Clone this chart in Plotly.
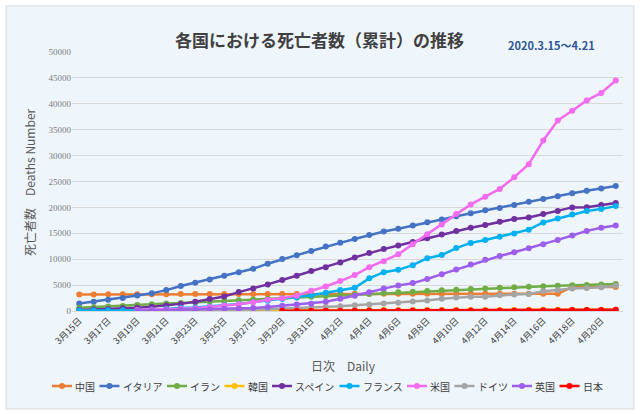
import plotly.graph_objects as go

dates = ["3月15日","3月16日","3月17日","3月18日","3月19日","3月20日","3月21日","3月22日","3月23日","3月24日",
         "3月25日","3月26日","3月27日","3月28日","3月29日","3月30日","3月31日","4月1日","4月2日","4月3日",
         "4月4日","4月5日","4月6日","4月7日","4月8日","4月9日","4月10日","4月11日","4月12日","4月13日",
         "4月14日","4月15日","4月16日","4月17日","4月18日","4月19日","4月20日","4月21日"]

china = [3199,3203,3217,3230,3241,3249,3253,3259,3274,3274,3281,3285,3291,3296,3299,3304,3308,3309,3316,3322,
         3326,3330,3333,3335,3335,3337,3339,3340,3343,3343,3345,3345,3346,3346,4636,4636,4636,4636]
italy = [1441,1809,2158,2503,2978,3405,4032,4825,5476,6077,6820,7503,8165,9134,10023,10779,11591,12428,13155,13915,
         14681,15362,15887,16523,17127,17669,18279,18849,19468,19899,20465,21067,21645,22170,22745,23227,23660,24114]
iran = [611,724,853,988,1135,1284,1433,1556,1685,1812,1934,2077,2234,2378,2517,2640,2757,2898,3036,3160,
        3294,3452,3603,3739,3872,3993,4110,4232,4357,4474,4585,4683,4777,4869,4958,5031,5118,5209]
korea = [72,75,75,81,84,91,94,102,104,111,120,126,131,139,144,152,158,162,165,169,
         174,177,183,186,192,200,204,208,211,214,217,222,225,229,230,232,234,236]
spain = [195,289,342,533,623,830,1043,1375,1772,2311,2808,3647,4365,5138,5982,6803,7716,8464,9387,10348,
         11198,11947,12641,13341,14045,14792,15447,16081,16606,17209,17756,18056,18708,19315,20002,20043,20453,20852]
france = [91,91,149,149,149,244,451,563,676,862,1102,1333,1698,1997,2317,2611,3030,3532,4043,4500,
          6300,7500,7950,8850,10200,10800,12150,13150,13700,14350,14950,15700,17100,17850,18650,19300,19700,20250]
usa = [None,None,None,None,206,255,301,414,555,780,1041,1287,1684,2179,2464,2961,3900,4737,5784,6944,
       8452,9619,10943,12910,14817,16686,18719,20580,22070,23572,25812,28326,32906,36773,38664,40661,42094,44500]
germany = [None,None,None,None,28,44,67,84,94,123,157,206,267,342,433,533,645,775,920,1107,
           1275,1444,1584,1810,2016,2349,2607,2767,2736,3022,3194,3294,3804,4052,4352,4459,4586,4862]
uk = [None,None,None,None,72,138,178,234,282,336,423,466,580,761,1021,1231,1411,1793,2357,2926,
      3611,4320,4943,5385,6171,7111,7993,8974,9892,10629,11329,12107,12868,13729,14576,15464,16060,16509]
japan = [None]*14 + [54,56,57,59,63,69,73,77,80,85,94,98,104,107,109,116,119,132,144,148,171,186,192,236]

names = ["中国", "イタリア", "イラン", "韓国", "スペイン", "フランス", "米国", "ドイツ", "英国", "日本"]
values = [china, italy, iran, korea, spain, france, usa, germany, uk, japan]
colors = ["#ED7D31", "#4472C4", "#70AD47", "#FFC000", "#7030A0", "#00B0F0", "#F36CF0", "#A5A5A5", "#9C5EEB", "#FF0000"]

y_ticks = list(range(0, 50001, 5000))
x_ticks = dates[::2]

FONT = "Noto Sans CJK JP"
fig = go.Figure()
for name, vals, col in zip(names, values, colors):
    fig.add_trace(go.Scatter(x=dates, y=vals, name=name, mode="lines+markers",
                             line=dict(color=col, width=2.5), marker=dict(color=col, size=6),
                             connectgaps=False, showlegend=False))

L, R, T, B = 72, 623, 52, 311
W, H = 640, 414
def px(x): return (x - L) / (R - L)
def py(y): return (B - y) / (B - T)

shapes = [dict(type="rect", xref="paper", yref="paper", x0=px(6), x1=px(634), y0=py(409), y1=py(6),
               fillcolor="#EEF5FB", line=dict(color="#D9D9D9", width=1), layer="below")]
annotations = [
    dict(text="<b>各国における死亡者数（累計）の推移</b>", xref="paper", yref="paper", x=px(319), y=py(39),
         xanchor="center", yanchor="middle", showarrow=False, font=dict(size=17, color="#404040", family=FONT)),
    dict(text="<b>2020.3.15～4.21</b>", xref="paper", yref="paper", x=px(551), y=py(45),
         xanchor="center", yanchor="middle", showarrow=False, font=dict(size=11, color="#2F5597", family=FONT)),
    dict(text="日次　Daily", xref="paper", yref="paper", x=px(343), y=py(365),
         xanchor="center", yanchor="middle", showarrow=False, font=dict(size=12, color="#595959", family=FONT)),
    dict(text="死亡者数　Deaths Number", xref="paper", yref="paper", x=px(29), y=py(182), textangle=-90,
         xanchor="center", yanchor="middle", showarrow=False, font=dict(size=12, color="#595959", family=FONT)),
]

# custom one-row legend (line + marker symbol, then label)
leg_y = 386
leg_font = 10
x0 = 52
for name, col in zip(names, colors):
    shapes.append(dict(type="line", xref="paper", yref="paper", x0=px(x0), x1=px(x0 + 20),
                       y0=py(leg_y), y1=py(leg_y), line=dict(color=col, width=2.5)))
    shapes.append(dict(type="circle", xref="paper", yref="paper", xsizemode="pixel", ysizemode="pixel",
                       xanchor=px(x0 + 10), yanchor=py(leg_y), x0=-3, x1=3, y0=-3, y1=3,
                       fillcolor=col, line=dict(color=col, width=0)))
    annotations.append(dict(text=name, xref="paper", yref="paper", x=px(x0 + 21), y=py(leg_y),
                            xanchor="left", yanchor="middle", showarrow=False,
                            font=dict(size=leg_font, color="#404040", family=FONT)))
    x0 = x0 + 21 + len(name) * leg_font + 6.5

fig.update_layout(
    width=W, height=H, autosize=False,
    margin=dict(l=L, r=W - R, t=T, b=H - B, autoexpand=False),
    paper_bgcolor="white", plot_bgcolor="#EEF5FB",
    font=dict(family=FONT, color="#595959"),
    showlegend=False,
    xaxis=dict(type="category", range=[-0.5, 37.5], tickmode="array", tickvals=x_ticks, ticktext=x_ticks,
               tickangle=-45, tickfont=dict(size=9, color="#404040", family=FONT), automargin=False,
               showgrid=False, showline=True, linecolor="#D9D9D9", ticks=""),
    yaxis=dict(range=[0, 50000], tickmode="array", tickvals=y_ticks, ticktext=[str(v) for v in y_ticks],
               tickfont=dict(size=9, color="#7F7F7F", family="Liberation Serif"), automargin=False,
               showgrid=True, gridcolor="#D9D9D9", gridwidth=1, zeroline=False, ticks=""),
    shapes=shapes,
    annotations=annotations,
)

fig.write_html("out.html", config={"displayModeBar": False},
               post_script="document.body.style.margin='0';")
